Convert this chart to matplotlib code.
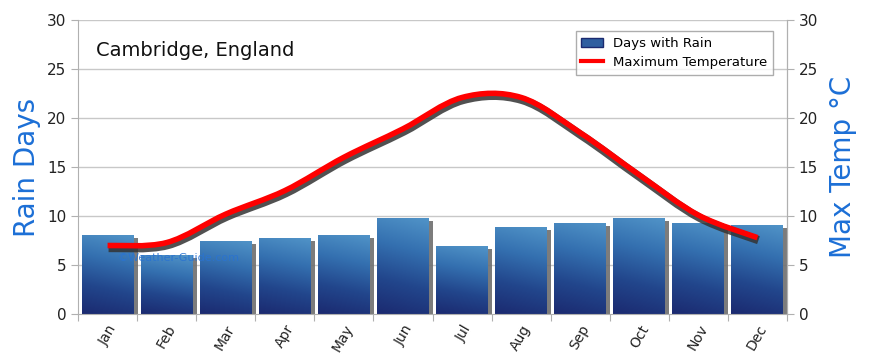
import numpy as np
import matplotlib
matplotlib.use("Agg")
import matplotlib.pyplot as plt
from matplotlib.path import Path
from matplotlib.patches import PathPatch, Rectangle, Patch
from matplotlib.lines import Line2D
import matplotlib.transforms as mtransforms
from matplotlib.colors import LinearSegmentedColormap

months = ["Jan", "Feb", "Mar", "Apr", "May", "Jun", "Jul", "Aug", "Sep", "Oct", "Nov", "Dec"]
rain_days = [8.1, 6.0, 7.5, 7.8, 8.1, 9.8, 6.9, 8.9, 9.3, 9.8, 9.3, 9.1]
max_temp = [7.0, 7.3, 10.2, 12.6, 16.0, 18.9, 22.1, 22.1, 18.5, 14.2, 10.1, 7.8]

plt.rcParams['font.family'] = ['DejaVu Sans']

fig = plt.figure(figsize=(8.7, 3.64), dpi=100)
ax = fig.add_axes([0.0897, 0.137, 0.8149, 0.808])
ax.set_xlim(0, 12)
ax.set_ylim(0, 30)

x = np.arange(12) + 0.5
width = 0.88

# gridlines
for yv in range(5, 31, 5):
    ax.axhline(yv, color="#c8c8c8", lw=1, zorder=0)

cmap = LinearSegmentedColormap.from_list("rain", ["#1b2a70", "#22468c", "#3470b0", "#5194c8"])
grad = np.linspace(0, 1, 100).reshape(-1, 1)
xx = np.linspace(0, 1, 40).reshape(1, -1)
img = np.clip(grad * 0.85 + xx * 0.12, 0, 1)

shadow_tr = mtransforms.offset_copy(ax.transData, fig=fig, x=4, y=-3, units='dots')
for xi, h in zip(x, rain_days):
    sh = Rectangle((xi - width / 2, 0), width, h, transform=shadow_tr,
                   facecolor="#6e6e6e", edgecolor="none", zorder=1, alpha=0.9)
    ax.add_patch(sh)
    rect = Rectangle((xi - width / 2, 0), width, h, facecolor="none", edgecolor="none", zorder=2)
    ax.add_patch(rect)
    im = ax.imshow(img, cmap=cmap, origin="lower", aspect="auto",
                   extent=(xi - width / 2, xi + width / 2, 0, h), zorder=2, interpolation="bilinear")
    im.set_clip_path(rect)
ax.set_xlim(0, 12)
ax.set_ylim(0, 30)

# smooth temperature curve (Catmull-Rom -> Bezier)
pts = np.column_stack([x, max_temp])
verts = [tuple(pts[0])]
codes = [Path.MOVETO]
n = len(pts)
for i in range(n - 1):
    p0 = pts[i - 1] if i > 0 else pts[i]
    p1 = pts[i]
    p2 = pts[i + 1]
    p3 = pts[i + 2] if i + 2 < n else pts[i + 1]
    c1 = p1 + (p2 - p0) / 6.0
    c2 = p2 - (p3 - p1) / 6.0
    verts += [tuple(c1), tuple(c2), tuple(p2)]
    codes += [Path.CURVE4] * 3
path = Path(verts, codes)
line_shadow_tr = mtransforms.offset_copy(ax.transData, fig=fig, x=1, y=-2.5, units='dots')
ax.add_patch(PathPatch(path, facecolor="none", edgecolor="#333333", lw=6, alpha=0.85,
                       transform=line_shadow_tr, zorder=4, capstyle="butt"))
ax.add_patch(PathPatch(path, facecolor="none", edgecolor="#ff0000", lw=4, zorder=5, capstyle="butt"))

# axes styling
ax.spines["top"].set_visible(False)
for s in ["left", "right", "bottom"]:
    ax.spines[s].set_color("#b0b0b0")
ax.set_yticks(range(0, 31, 5))
ax.tick_params(axis="y", colors="#b0b0b0", labelcolor="#222222", labelsize=11, length=5)
ax.set_xticks(range(0, 13), minor=False)
ax.set_xticklabels([])
ax.tick_params(axis="x", which="major", colors="#b0b0b0", length=5)
ax.set_xticks(x, minor=True)
ax.set_xticklabels(months, minor=True, rotation=60, ha="right", va="top", rotation_mode="anchor",
                   fontsize=10, color="#222222")
ax.tick_params(axis="x", which="minor", length=0, pad=6)

ax2 = ax.twinx()
ax2.set_ylim(0, 30)
ax2.set_yticks(range(0, 31, 5))
ax2.tick_params(axis="y", colors="#b0b0b0", labelcolor="#222222", labelsize=11, length=5)
for s in ["top", "left", "bottom"]:
    ax2.spines[s].set_visible(False)
ax2.spines["right"].set_color("#b0b0b0")

ax.set_ylabel("Rain Days", color="#1c6fd6", fontsize=20, labelpad=4)
ax2.set_ylabel("Max Temp °C", color="#1c6fd6", fontsize=20, labelpad=8)

ax.text(0.025, 0.93, "Cambridge, England", transform=ax.transAxes, fontsize=14, color="#111111",
        va="top", ha="left")
ax.text(0.055, 0.18, "©Weather-Guide.com", transform=ax.transAxes, fontsize=8, color="#2a73d0", alpha=0.9,
        zorder=6)

handles = [Patch(facecolor="#2f5fa0", edgecolor="#1b2a70"),
           Line2D([0], [0], color="#ff0000", lw=3)]
leg = ax.legend(handles, ["Days with Rain", "Maximum Temperature"], loc="upper right",
                bbox_to_anchor=(0.99, 0.985), fontsize=9.5, frameon=True, fancybox=False,
                edgecolor="#999999", handlelength=1.6, borderpad=0.45, labelspacing=0.45)
leg.get_frame().set_linewidth(1)
leg.set_zorder(10)

fig.savefig("out.png", dpi=100)
